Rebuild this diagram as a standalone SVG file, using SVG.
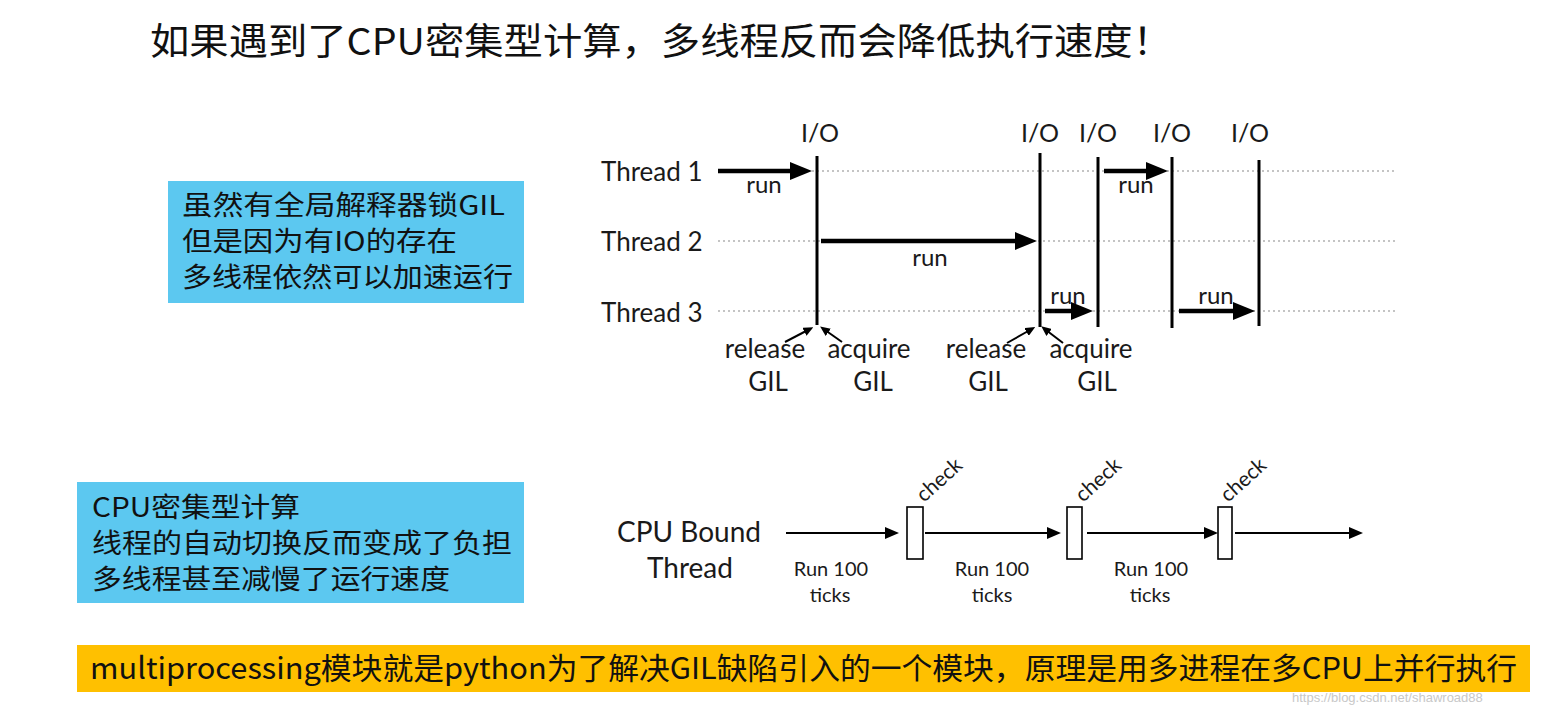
<svg xmlns="http://www.w3.org/2000/svg" width="1560" height="707" viewBox="0 0 1560 707">
<defs>
<style>
.cjk{font-family:"Noto Sans CJK SC","Noto Sans",sans-serif;fill:#111}
.lab{font-family:Lato,"Open Sans",sans-serif;fill:#1a1a1a}
.dot{stroke:#8a8a8a;stroke-width:1.2;stroke-dasharray:2 3;fill:none}
.io{stroke:#000;stroke-width:3;fill:none}
.thick{stroke:#000;stroke-width:4.5;fill:none;marker-end:url(#bigHead)}
.thin{stroke:#000;stroke-width:2;fill:none;marker-end:url(#midHead)}
.gil{stroke:#000;stroke-width:2;fill:none;marker-end:url(#smallHead)}
.box{fill:#fff;stroke:#000;stroke-width:1.6}
</style>
<marker id="bigHead" markerUnits="userSpaceOnUse" markerWidth="22" markerHeight="18" refX="8" refY="9" orient="auto">
<path d="M0,0 L22,9 L0,18 z" fill="#000"/>
</marker>
<marker id="midHead" markerUnits="userSpaceOnUse" markerWidth="14" markerHeight="12" refX="6" refY="6" orient="auto">
<path d="M0,0 L14,6 L0,12 z" fill="#000"/>
</marker>
<marker id="smallHead" markerUnits="userSpaceOnUse" markerWidth="10" markerHeight="9" refX="4" refY="4.5" orient="auto">
<path d="M0,0 L10,4.5 L0,9 z" fill="#000"/>
</marker>
</defs>
<rect width="1560" height="707" fill="#fff"/>

<g id="title">
<text class="cjk" x="150" y="55" font-size="37" textLength="1022" lengthAdjust="spacingAndGlyphs">如果遇到了CPU密集型计算，多线程反而会降低执行速度！</text>
</g>

<g id="note-io">
<rect x="168" y="181" width="356" height="122" fill="#5cc8f0"/>
<text class="cjk" x="182" y="215" font-size="27" textLength="323" lengthAdjust="spacingAndGlyphs">虽然有全局解释器锁GIL</text>
<text class="cjk" x="182" y="251" font-size="27" textLength="275" lengthAdjust="spacingAndGlyphs">但是因为有IO的存在</text>
<text class="cjk" x="182" y="287" font-size="27" textLength="331" lengthAdjust="spacingAndGlyphs">多线程依然可以加速运行</text>
</g>

<g id="note-cpu">
<rect x="77" y="482" width="447" height="121" fill="#5cc8f0"/>
<text class="cjk" x="92" y="517" font-size="27" textLength="208" lengthAdjust="spacingAndGlyphs">CPU密集型计算</text>
<text class="cjk" x="92" y="553" font-size="27" textLength="420" lengthAdjust="spacingAndGlyphs">线程的自动切换反而变成了负担</text>
<text class="cjk" x="92" y="589" font-size="27" textLength="358" lengthAdjust="spacingAndGlyphs">多线程甚至减慢了运行速度</text>
</g>

<g id="banner">
<rect x="77" y="645" width="1453" height="47" fill="#ffc000"/>
<text class="cjk" x="90" y="679" font-size="30" textLength="1427" lengthAdjust="spacingAndGlyphs">multiprocessing模块就是python为了解决GIL缺陷引入的一个模块，原理是用多进程在多CPU上并行执行</text>
</g>
<g id="watermark">
<text x="1292" y="702" font-family="Liberation Sans, sans-serif" font-size="13" fill="#c8c8c8">https://blog.csdn.net/shawroad88</text>
</g>

<g id="thread-labels" class="lab" font-size="26">
<text id="thread1" x="601" y="181">Thread 1</text>
<text id="thread2" x="601" y="251">Thread 2</text>
<text id="thread3" x="601" y="322">Thread 3</text>
</g>

<g id="io-labels" class="lab" font-size="25" text-anchor="middle">
<text x="820" y="142">I/O</text>
<text x="1040" y="142">I/O</text>
<text x="1098" y="142">I/O</text>
<text x="1172" y="142">I/O</text>
<text x="1250" y="142">I/O</text>
</g>

<g id="connectors">
<line class="dot" x1="812" y1="171" x2="1395" y2="171"/>
<line class="dot" x1="718" y1="241" x2="1395" y2="241"/>
<line class="dot" x1="718" y1="311" x2="1395" y2="311"/>
<line class="io" x1="817" y1="156" x2="817" y2="325"/>
<line class="io" x1="1040" y1="153" x2="1040" y2="327"/>
<line class="io" x1="1098" y1="157" x2="1098" y2="327"/>
<line class="io" x1="1172" y1="157" x2="1172" y2="328"/>
<line class="io" x1="1259" y1="160" x2="1259" y2="326"/>
<line class="thick" x1="718" y1="171" x2="798" y2="171"/>
<line class="thick" x1="821" y1="241" x2="1023" y2="241"/>
<line class="thick" x1="1104" y1="171" x2="1154" y2="171"/>
<line class="thick" x1="1045" y1="311" x2="1079" y2="311"/>
<line class="thick" x1="1179" y1="311" x2="1241" y2="311"/>
<line class="gil" x1="785" y1="342" x2="808" y2="330"/>
<line class="gil" x1="842" y1="342" x2="825" y2="330"/>
<line class="gil" x1="1007" y1="343" x2="1030" y2="330"/>
<line class="gil" x1="1063" y1="343" x2="1046" y2="330"/>
<line class="thin" x1="786" y1="533" x2="891" y2="533"/>
<line class="thin" x1="925" y1="533" x2="1053" y2="533"/>
<line class="thin" x1="1087" y1="533" x2="1210" y2="533"/>
<line class="thin" x1="1235" y1="533" x2="1355" y2="533"/>
</g>

<g id="run-labels" class="lab" font-size="24" text-anchor="middle">
<text x="764" y="193">run</text>
<text x="930" y="266">run</text>
<text x="1136" y="193">run</text>
<text x="1068" y="304">run</text>
<text x="1216" y="304">run</text>
</g>

<g id="gil-labels" class="lab" font-size="26" text-anchor="middle">
<text x="765" y="358">release</text>
<text x="768" y="391">GIL</text>
<text x="869" y="358">acquire</text>
<text x="873" y="391">GIL</text>
<text x="986" y="358">release</text>
<text x="988" y="391">GIL</text>
<text x="1091" y="358">acquire</text>
<text x="1097" y="391">GIL</text>
</g>

<g id="cpu-thread">
<text class="lab" x="689" y="542" font-size="28" text-anchor="middle">CPU Bound</text>
<text class="lab" x="690" y="578" font-size="28" text-anchor="middle">Thread</text>
</g>

<g id="check1">
<rect class="box" x="907" y="507" width="16" height="52"/>
<text class="lab" font-size="21" transform="translate(924,503) rotate(-42)">check</text>
</g>
<g id="check2">
<rect class="box" x="1067" y="507" width="15" height="52"/>
<text class="lab" font-size="21" transform="translate(1083,503) rotate(-42)">check</text>
</g>
<g id="check3">
<rect class="box" x="1218" y="507" width="14" height="52"/>
<text class="lab" font-size="21" transform="translate(1228,503) rotate(-42)">check</text>
</g>

<g id="tick-labels" class="lab" font-size="20" text-anchor="middle">
<text x="831" y="576">Run 100</text>
<text x="830" y="602">ticks</text>
<text x="992" y="576">Run 100</text>
<text x="992" y="602">ticks</text>
<text x="1151" y="576">Run 100</text>
<text x="1150" y="602">ticks</text>
</g>
</svg>
